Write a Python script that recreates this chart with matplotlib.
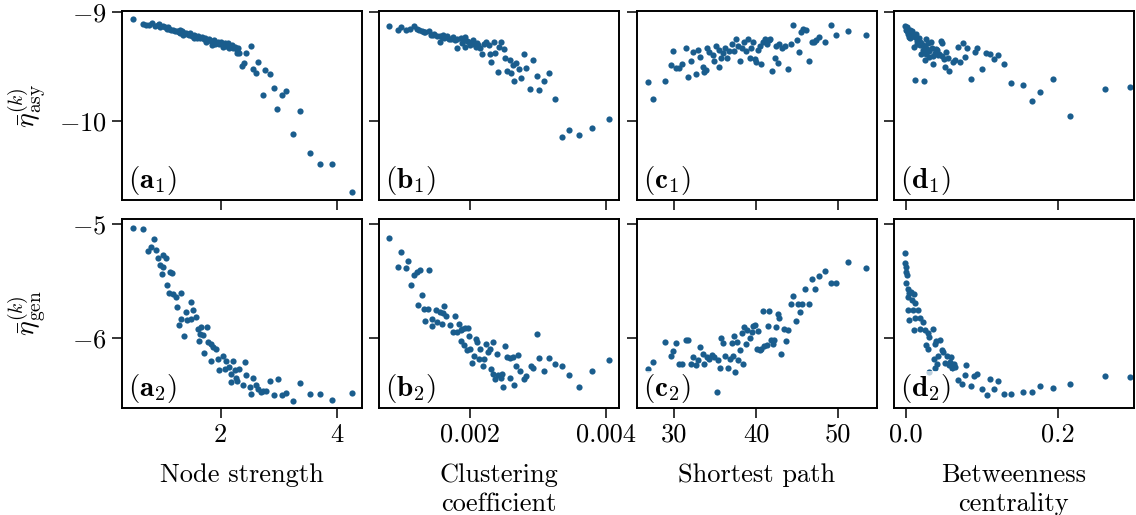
import numpy as np
import matplotlib.pyplot as plt

plt.rcParams['font.family'] = 'cmr10'
plt.rcParams['mathtext.fontset'] = 'cm'
plt.rcParams['axes.formatter.use_mathtext'] = True

# node strength vs asymptotic / generalisation error
x_a1 = [0.49, 0.67, 0.72, 0.78, 0.83, 0.88, 0.92, 0.95, 0.97, 1.01, 1.05, 1.08, 1.10, 1.12, 1.15,
        1.19, 1.22, 1.25, 1.28, 1.30, 1.31, 1.34, 1.36, 1.37, 1.40, 1.43, 1.46, 1.48, 1.51, 1.54,
        1.55, 1.57, 1.60, 1.62, 1.65, 1.68, 1.71, 1.74, 1.75, 1.77, 1.80, 1.83, 1.85, 1.86, 1.89,
        1.90, 1.92, 1.95, 1.98, 2.01, 2.04, 2.05, 2.07, 2.10, 2.12, 2.13, 2.15, 2.16, 2.19, 2.22,
        2.25, 2.28, 2.29, 2.30, 2.32, 2.52, 2.44, 2.41, 2.37, 2.64, 2.55, 2.61, 2.76, 2.84, 2.91,
        2.72, 3.05, 3.13, 2.97, 3.37, 3.25, 3.54, 3.71, 3.92, 4.26]
y_a1 = [-9.067, -9.11, -9.12, -9.115, -9.10, -9.125, -9.12, -9.11, -9.135, -9.13, -9.14, -9.155, -9.14, -9.15, -9.165,
        -9.16, -9.175, -9.17, -9.18, -9.165, -9.19, -9.175, -9.21, -9.195, -9.19, -9.20, -9.21, -9.195, -9.215, -9.205,
        -9.24, -9.22, -9.235, -9.22, -9.24, -9.23, -9.25, -9.24, -9.27, -9.255, -9.25, -9.265, -9.30, -9.27, -9.255,
        -9.29, -9.28, -9.27, -9.29, -9.275, -9.30, -9.32, -9.285, -9.31, -9.28, -9.295, -9.33, -9.32, -9.30, -9.33,
        -9.315, -9.345, -9.376, -9.33, -9.37, -9.309, -9.37, -9.465, -9.49, -9.456, -9.52, -9.56, -9.526, -9.569, -9.697,
        -9.761, -9.761, -9.725, -9.89, -9.908, -10.113, -10.29, -10.39, -10.39, -10.65]

x_a2 = [0.49, 0.67, 0.86, 0.76, 0.80, 0.89, 0.93, 1.01, 1.06, 0.96, 1.01, 1.13, 1.17, 1.00, 1.09,
        1.12, 1.18, 1.32, 1.23, 1.50, 1.25, 1.41, 1.53, 1.33, 1.42, 1.58, 1.50, 1.29, 1.38, 1.61,
        1.67, 1.76, 1.64, 1.70, 1.63, 1.78, 1.84, 1.87, 1.71, 1.93, 1.84, 1.95, 2.04, 2.10, 2.21,
        1.98, 2.07, 2.15, 2.24, 2.32, 2.42, 2.18, 2.44, 2.27, 2.55, 2.18, 2.28, 2.38, 2.50, 2.61,
        2.65, 2.72, 2.78, 2.84, 2.99, 2.52, 2.70, 2.91, 3.05, 3.13, 3.25, 3.37, 3.54, 3.71, 3.92,
        4.26]
y_a2 = [-5.038, -5.047, -5.13, -5.237, -5.205, -5.228, -5.30, -5.27, -5.30, -5.36, -5.375, -5.418, -5.433, -5.44, -5.535,
        -5.60, -5.61, -5.60, -5.64, -5.68, -5.725, -5.77, -5.755, -5.83, -5.84, -5.81, -5.83, -5.886, -5.98, -5.915,
        -5.90, -5.90, -5.96, -5.97, -6.02, -6.03, -6.05, -6.08, -6.13, -6.09, -6.20, -6.18, -6.155, -6.20, -6.20,
        -6.28, -6.27, -6.25, -6.28, -6.27, -6.21, -6.31, -6.32, -6.35, -6.35, -6.38, -6.37, -6.41, -6.43, -6.41,
        -6.44, -6.46, -6.46, -6.375, -6.36, -6.49, -6.47, -6.50, -6.50, -6.48, -6.55, -6.39, -6.485, -6.485, -6.54,
        -6.48]

# clustering coefficient, in units of 1e-3
x_b1 = [0.80, 0.93, 0.975, 1.05, 1.12, 1.17, 1.22, 1.25, 1.29, 1.32, 1.34, 1.39, 1.42, 1.45, 1.47,
        1.51, 1.55, 1.56, 1.58, 1.60, 1.62, 1.64, 1.66, 1.69, 1.72, 1.74, 1.77, 1.80, 1.81, 1.86,
        1.88, 1.90, 1.92, 1.93, 1.95, 1.98, 2.00, 2.02, 2.04, 2.06, 2.08, 2.10, 2.12, 2.15, 2.18,
        2.20, 2.23, 2.28, 2.29, 2.30, 2.35, 2.37, 2.41, 2.42, 2.46, 2.50, 2.52, 2.54, 2.58, 2.60,
        2.64, 2.63, 2.68, 2.72, 2.75, 2.79, 2.83, 2.88, 2.93, 2.99, 3.02, 3.09, 3.16, 3.25, 3.35,
        3.45, 3.60, 3.80, 4.05]
y_b1 = [-9.128, -9.165, -9.135, -9.165, -9.159, -9.128, -9.15, -9.16, -9.17, -9.18, -9.186, -9.17, -9.205, -9.21, -9.196,
        -9.22, -9.215, -9.272, -9.23, -9.205, -9.24, -9.232, -9.22, -9.25, -9.245, -9.226, -9.257, -9.25, -9.327, -9.241,
        -9.281, -9.255, -9.318, -9.232, -9.26, -9.272, -9.303, -9.28, -9.257, -9.295, -9.318, -9.281, -9.30, -9.333, -9.379,
        -9.29, -9.272, -9.303, -9.379, -9.456, -9.272, -9.373, -9.548, -9.318, -9.272, -9.342, -9.416, -9.538, -9.44, -9.557,
        -9.63, -9.486, -9.465, -9.517, -9.60, -9.385, -9.507, -9.70, -9.44, -9.587, -9.716, -9.633, -9.553, -9.795, -10.147,
        -10.083, -10.126, -10.061, -9.982]

x_b2 = [0.80, 0.975, 0.93, 1.05, 1.08, 1.13, 1.17, 1.21, 1.26, 1.39, 1.29, 1.23, 1.32, 1.38, 1.34,
        1.43, 1.44, 1.49, 1.51, 1.55, 1.59, 1.62, 1.60, 1.65, 1.70, 1.74, 1.78, 1.80, 1.83, 1.86,
        1.88, 1.92, 1.97, 1.87, 1.91, 1.95, 1.98, 2.00, 2.03, 2.05, 2.08, 2.10, 2.13, 2.15, 2.19,
        2.21, 2.24, 2.26, 2.29, 2.33, 2.30, 2.34, 2.37, 2.41, 2.45, 2.47, 2.49, 2.40, 2.52, 2.54,
        2.59, 2.63, 2.71, 2.68, 2.74, 2.59, 2.64, 2.79, 2.83, 2.89, 2.93, 2.99, 3.02, 3.09, 3.16,
        3.25, 3.35, 3.45, 3.61, 3.80, 4.05]
y_b2 = [-5.126, -5.243, -5.38, -5.389, -5.32, -5.535, -5.447, -5.424, -5.404, -5.404, -5.623, -5.71, -5.74, -5.746, -5.848,
        -5.895, -5.828, -5.754, -5.857, -5.77, -5.871, -5.717, -5.783, -5.804, -5.886, -5.945, -5.804, -5.945, -5.871, -5.93,
        -5.915, -5.91, -5.906, -6.026, -6.061, -6.105, -5.98, -6.096, -6.213, -6.155, -6.003, -6.032, -6.18, -6.09, -6.246,
        -6.18, -6.047, -6.12, -6.09, -6.032, -6.266, -6.31, -6.354, -6.318, -6.345, -6.31, -6.427, -6.134, -6.067, -6.164,
        -6.173, -6.164, -6.143, -6.243, -6.289, -6.348, -6.407, -6.354, -6.331, -6.243, -6.26, -5.959, -6.17, -6.289, -6.17,
        -6.228, -6.246, -6.325, -6.427, -6.287, -6.187]

# shortest path
x_c1 = [26.83, 27.47, 28.83, 29.55, 29.88, 30.2, 30.6, 31.0, 31.41, 31.69, 32.08, 32.29, 32.61, 32.89, 33.17,
        33.49, 33.61, 33.82, 33.98, 34.3, 34.7, 34.9, 35.1, 35.42, 35.5, 35.7, 35.9, 36.2, 36.39, 36.71,
        37.03, 37.3, 37.5, 37.8, 37.99, 38.3, 38.5, 38.7, 39.0, 39.2, 39.4, 39.6, 39.84, 40.0, 40.24,
        40.52, 40.64, 40.8, 41.05, 41.33, 41.53, 41.72, 41.93, 42.25, 42.41, 42.65, 42.81, 43.13, 43.46, 43.86,
        44.25, 44.54, 44.94, 45.22, 45.46, 45.75, 46.02, 46.42, 46.75, 47.07, 47.35, 47.63, 48.35, 49.07, 49.76,
        51.24, 53.37]
y_c1 = [-9.636, -9.795, -9.63, -9.483, -9.355, -9.514, -9.514, -9.477, -9.324, -9.59, -9.447, -9.367, -9.569, -9.346, -9.407,
        -9.498, -9.55, -9.529, -9.324, -9.367, -9.392, -9.447, -9.306, -9.346, -9.498, -9.416, -9.376, -9.324, -9.42, -9.355,
        -9.294, -9.355, -9.245, -9.306, -9.447, -9.324, -9.27, -9.355, -9.245, -9.416, -9.324, -9.275, -9.428, -9.459, -9.346,
        -9.306, -9.477, -9.27, -9.245, -9.294, -9.254, -9.245, -9.538, -9.42, -9.306, -9.468, -9.294, -9.324, -9.306, -9.52,
        -9.294, -9.122, -9.254, -9.367, -9.183, -9.153, -9.162, -9.443, -9.275, -9.269, -9.254, -9.232, -9.275, -9.116, -9.214,
        -9.177, -9.208]

x_c2 = [26.83, 27.47, 28.83, 29.55, 29.88, 30.2, 30.6, 31.0, 31.41, 31.69, 32.08, 32.29, 32.61, 32.89, 33.17,
        33.49, 33.69, 33.98, 34.3, 34.61, 34.9, 35.18, 35.3, 35.58, 35.7, 35.99, 36.23, 36.51, 36.78, 37.02,
        37.11, 37.31, 37.43, 37.71, 37.99, 37.83, 38.23, 38.4, 38.52, 38.8, 38.92, 39.2, 39.43, 39.6, 39.84,
        40.12, 40.24, 40.45, 40.64, 40.8, 40.96, 41.33, 41.45, 41.53, 41.84, 42.01, 42.13, 42.41, 42.61, 42.81,
        43.05, 43.34, 43.61, 43.86, 44.25, 44.54, 44.86, 45.06, 45.34, 45.63, 45.95, 46.42, 46.83, 47.15, 47.63,
        48.35, 49.07, 49.76, 51.24, 53.37]
y_c2 = [-6.272, -6.208, -6.032, -6.158, -6.111, -6.038, -6.222, -6.222, -6.018, -6.012, -6.222, -6.164, -6.237, -6.193, -6.076,
        -6.135, -6.222, -6.164, -6.178, -6.149, -6.164, -6.471, -6.193, -6.257, -5.994, -6.041, -6.158, -6.257, -6.178, -6.041,
        -6.158, -5.982, -6.296, -6.032, -6.105, -6.187, -5.953, -6.222, -5.901, -6.047, -5.93, -5.994, -5.945, -5.895, -5.886,
        -6.09, -5.936, -6.105, -6.09, -5.76, -6.07, -6.061, -5.895, -5.76, -6.012, -6.047, -6.018, -5.901, -5.784, -5.827,
        -6.135, -5.921, -6.023, -5.924, -5.696, -5.632, -5.851, -5.696, -5.769, -5.702, -5.573, -5.696, -5.485, -5.573, -5.456,
        -5.409, -5.515, -5.515, -5.331, -5.389]

# betweenness centrality
x_d1 = [-0.001, 0.0, 0.001, 0.002, 0.003, 0.002, 0.0045, 0.005, 0.004, 0.0067, 0.007, 0.008, 0.009, 0.006, 0.010,
        0.012, 0.0134, 0.014, 0.0157, 0.015, 0.011, 0.0179, 0.017, 0.019, 0.020, 0.020, 0.0224, 0.022, 0.025, 0.0268,
        0.027, 0.028, 0.029, 0.0246, 0.030, 0.031, 0.0336, 0.034, 0.036, 0.036, 0.038, 0.039, 0.041, 0.0425, 0.044,
        0.0456, 0.047, 0.048, 0.050, 0.0528, 0.056, 0.0514, 0.0573, 0.0617, 0.065, 0.068, 0.0707, 0.0752, 0.0774, 0.0805,
        0.085, 0.0904, 0.094, 0.1007, 0.105, 0.111, 0.1164, 0.1217, 0.129, 0.1387, 0.154, 0.1655, 0.1768, 0.193, 0.216,
        0.262, 0.295, 0.0125, 0.0232]
y_d1 = [-9.128, -9.165, -9.14, -9.15, -9.196, -9.17, -9.227, -9.16, -9.19, -9.18, -9.20, -9.17, -9.211, -9.24, -9.22,
        -9.23, -9.196, -9.26, -9.25, -9.29, -9.318, -9.303, -9.24, -9.27, -9.385, -9.28, -9.349, -9.30, -9.32, -9.25,
        -9.38, -9.34, -9.287, -9.44, -9.36, -9.41, -9.272, -9.33, -9.471, -9.40, -9.37, -9.342, -9.35, -9.394, -9.38,
        -9.263, -9.40, -9.287, -9.43, -9.364, -9.416, -9.502, -9.541, -9.456, -9.44, -9.318, -9.456, -9.281, -9.41, -9.324,
        -9.608, -9.364, -9.333, -9.523, -9.373, -9.379, -9.431, -9.388, -9.471, -9.645, -9.67, -9.817, -9.731, -9.612, -9.951,
        -9.70, -9.685, -9.624, -9.63]

x_d2 = [-0.0013, -0.0013, 0.0, 0.0, 0.0013, 0.0, 0.0022, 0.0045, 0.0067, 0.0103, 0.003, 0.0076, 0.012, 0.003, 0.009,
        0.0157, 0.0045, 0.012, 0.019, 0.0224, 0.011, 0.0179, 0.0246, 0.029, 0.0358, 0.031, 0.038, 0.0447, 0.0268, 0.029,
        0.047, 0.049, 0.0372, 0.0425, 0.0537, 0.0595, 0.0403, 0.0514, 0.0568, 0.0604, 0.0627, 0.030, 0.038, 0.040, 0.058,
        0.065, 0.068, 0.0738, 0.0796, 0.0774, 0.085, 0.0895, 0.094, 0.1007, 0.1066, 0.111, 0.1164, 0.1217, 0.1289, 0.1387,
        0.154, 0.1655, 0.1768, 0.193, 0.216, 0.262, 0.295]
y_d2 = [-5.252, -5.345, -5.38, -5.418, -5.447, -5.515, -5.573, -5.608, -5.594, -5.614, -5.638, -5.667, -5.69, -5.749, -5.754,
        -5.754, -5.842, -5.819, -5.819, -5.857, -5.93, -5.915, -5.93, -5.953, -5.915, -5.988, -6.047, -6.018, -6.061, -6.09,
        -6.099, -6.12, -6.178, -6.158, -6.158, -6.164, -6.222, -6.216, -6.237, -6.257, -6.222, -6.296, -6.257, -6.026, -6.208,
        -6.25, -6.368, -6.398, -6.237, -6.318, -6.42, -6.33, -6.31, -6.441, -6.50, -6.354, -6.447, -6.375, -6.485, -6.491,
        -6.471, -6.471, -6.42, -6.436, -6.404, -6.333, -6.339]

xs = [[x_a1, np.array(x_b1) * 1e-3, x_c1, x_d1],
      [x_a2, np.array(x_b2) * 1e-3, x_c2, x_d2]]
ys = [[y_a1, y_b1, y_c1, y_d1], [y_a2, y_b2, y_c2, y_d2]]

letters = ['a', 'b', 'c', 'd']
xlabels = ['Node strength', 'Clustering\ncoefficient', 'Shortest path', 'Betweenness\ncentrality']
ylabels = [r'$\bar{\eta}^{(k)}_{\mathrm{asy}}$', r'$\bar{\eta}^{(k)}_{\mathrm{gen}}$']
xlims = [(0.31, 4.43), (0.00066, 0.0042), (25.4, 54.7), (-0.016, 0.30)]
xticks = [[2, 4], [0.002, 0.004], [30, 40, 50], [0.0, 0.2]]
xticklabels = [['2', '4'], ['0.002', '0.004'], ['30', '40', '50'], ['0.0', '0.2']]
ylims = [(-10.72, -8.99), (-6.61, -4.956)]
yticks = [[-10, -9], [-6, -5]]
yticklabels = [[r'$-10$', r'$-9$'], [r'$-6$', r'$-5$']]

color = '#1a5d8d'

fig, axes = plt.subplots(2, 4, figsize=(11.36, 5.15), dpi=100, sharex='col', sharey='row')
fig.subplots_adjust(left=0.1074, right=0.9982, top=0.9786, bottom=0.2078, wspace=0.071, hspace=0.1)

for r in range(2):
    for c in range(4):
        ax = axes[r, c]
        ax.scatter(xs[r][c], ys[r][c], s=20, color=color, linewidths=0, zorder=2)
        ax.set_xlim(*xlims[c])
        ax.set_ylim(*ylims[r])
        ax.set_xticks(xticks[c])
        ax.set_yticks(yticks[r])
        ax.tick_params(direction='out', length=7, width=1.1, labelsize=19, pad=4)
        for sp in ax.spines.values():
            sp.set_linewidth(1.4)
        ax.text(0.025, 0.015, r'$(\mathbf{%s}_{\mathbf{%d}})$' % (letters[c], r + 1),
                transform=ax.transAxes, fontsize=21, ha='left', va='bottom', zorder=3,
                bbox=dict(boxstyle='square,pad=0.05', facecolor='white', edgecolor='none', alpha=0.7))
        if r == 1:
            ax.set_xticklabels(xticklabels[c])
            ax.set_xlabel(xlabels[c], fontsize=19, labelpad=12, linespacing=1.25)
        if c == 0:
            ax.set_yticklabels(yticklabels[r])
            ax.set_ylabel(ylabels[r], fontsize=20)
            ax.yaxis.set_label_coords(-0.31, 0.5)

fig.savefig('out.png', dpi=100)
